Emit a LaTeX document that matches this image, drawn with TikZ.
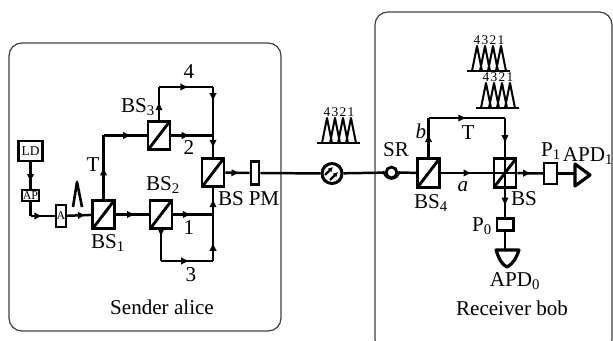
\documentclass[tikz,border=0pt]{standalone}
\usepackage{fontspec}
\setmainfont{Liberation Serif}
\usetikzlibrary{arrows.meta, decorations.markings}
\tikzset{
  fiber/.style={line width=0.062cm},
  arr/.style={postaction={decorate},decoration={markings,mark=at position #1 with {\arrow{Latex[length=2.1mm,width=1.9mm]}}}},
  part/.style={draw,line width=0.072cm,fill=white,inner sep=0pt},
  bsbox/.style={part,minimum width=0.55cm,minimum height=0.72cm,
    path picture={\draw[line width=0.072cm] (path picture bounding box.south west) -- (path picture bounding box.north east);}},
  lab/.style={font=\fontsize{15}{17}\selectfont,inner sep=0pt},
  tiny/.style={font=\fontsize{9.5}{10}\selectfont,inner sep=0pt},
  frame/.style={draw=black!75,line width=0.03cm,rounded corners=0.32cm},
  pulse/.style={line width=0.05cm,line join=round}
}
% one train of four pulses, #1 x of first peak, #2 baseline y, #3 name
\newcommand{\pulsetrain}[3]{
  \foreach \p/\d in {0/4,8/3,16/2,24/1}{
    \draw[pulse] ({#1+\p-5},#2) -- ({#1+\p},{#2-25}) -- ({#1+\p+5},#2);
    \node[tiny] (#3\d) at ({#1+\p},{#2-31}) {\d};
  }
  \draw[pulse] ({#1-10},#2) -- ({#1+33},#2);
}
\begin{document}
\begin{tikzpicture}[x=0.025cm,y=-0.025cm]
\useasboundingbox (0,0) rectangle (613,341);

\draw[frame] (9,43) rectangle (281,331);
\draw[frame] (375,12) rectangle (612,352);

% sender parts
\node[part,minimum width=0.6cm,minimum height=0.5cm] (ld) at (30.5,151) {\fontsize{9.5}{10}\selectfont LD};
\node[part,minimum width=0.43cm,minimum height=0.27cm,line width=0.05cm] (ap) at (30.5,195.5) {\fontsize{8.5}{9}\selectfont AP};
\node[part,minimum width=0.25cm,minimum height=0.55cm,line width=0.055cm] (at) at (61,216) {\fontsize{8.5}{9}\selectfont A};
\node[bsbox] (bsone) at (103.5,214.5) {};
\node[bsbox] (bstwo) at (161,214.5) {};
\node[bsbox] (bsthree) at (159,135.5) {};
\node[bsbox] (bsout) at (213,172.5) {};
\node[part,minimum width=0.2cm,minimum height=0.58cm] (pm) at (255,173) {};

\coordinate (turn) at (30.5,216);
\coordinate (tcorner) at (103.5,135.5);
\coordinate (up) at (159,87);
\coordinate (topright) at (213,87);
\coordinate (low) at (161,261);
\coordinate (lowright) at (213,261);
\coordinate (jtwo) at (213,135.5);
\coordinate (jone) at (213,214.5);
\coordinate (backtip) at (161,237);

\draw[fiber,arr=0.75] (ld) -- (ap);
\draw[fiber,line join=round] (ap) -- (turn);
\draw[fiber,arr=0.5] (turn) -- (at);
\draw[fiber,arr=0.8] (at) -- (bsone);
\draw[fiber,arr=0.6] (bsone) -- (bstwo);
\draw[fiber,arr=0.5] (bsone) -- (tcorner);
\draw[fiber,arr=0.65] (tcorner) -- (bsthree);
\draw[fiber,arr=0.45] (bsthree) -- (jtwo);
\draw[fiber,arr=0.45] (bstwo) -- (jone);
\draw[fiber,arr=0.55] (bsthree) -- (up);
\draw[fiber,arr=0.55] (up) -- (topright);
\draw[fiber,arr=0.3] (topright) -- (jtwo);
\draw[fiber,arr=0.6] (jtwo) -- (bsout);
\draw[fiber] (bstwo) -- (low);
\draw[fiber,-{Latex[length=2.1mm,width=1.9mm]}] (bstwo) -- (backtip);
\draw[fiber,arr=0.55] (low) -- (lowright);
\draw[fiber,arr=0.4] (lowright) -- (jone);
\draw[fiber,arr=0.6] (jone) -- (bsout);
\draw[fiber,arr=0.6] (bsout) -- (pm);

% single pulse
\draw[pulse,line width=0.065cm] (73,207) -- (77,182) -- (82,207);

\node[lab] (lfour) at (189,72) {4};
\node[lab] (lbsthree) at (138,107) {BS\textsubscript{3}};
\node[lab] (ltwo) at (189,148) {2};
\node[lab] (lt) at (93,165) {T};
\node[lab] (lbstwo) at (163,185) {BS\textsubscript{2}};
\node[lab] (lone) at (189,228) {1};
\node[lab] (lthree) at (191,275) {3};
\node[lab] (lbsone) at (108,243) {BS\textsubscript{1}};
\node[lab] (lbs) at (231,199) {BS};
\node[lab] (lpm) at (264,199) {PM};
\node[lab] (sender) at (162,307) {Sender alice};

% channel
\node[draw,circle,line width=0.075cm,fill=white,minimum size=0.5cm,inner sep=0pt] (iso) at (332,173.5) {};
\draw[line width=0.06cm,-{Latex[length=1.2mm,width=1.3mm]}] (325,175) -- (333,167);
\draw[line width=0.06cm,-{Latex[length=1.2mm,width=1.3mm]}] (330,180) -- (338,172);
\node[draw,circle,line width=0.07cm,fill=white,minimum size=0.27cm,inner sep=0pt] (sr) at (391.5,172.5) {};
\draw[line width=0.04cm] (383.5,171) arc[start angle=180,end angle=0,radius=8];

\pulsetrain{327}{143}{cha}
\pulsetrain{486}{108}{rxb}
\pulsetrain{477}{71}{rxa}

% receiver parts
\node[bsbox] (bsfour) at (428.5,173) {};
\node[bsbox] (bsrx) at (505,173) {};
\node[part,minimum width=0.32cm,minimum height=0.54cm,line width=0.055cm] (pone) at (550.5,173.5) {};
\node[part,minimum width=0.42cm,minimum height=0.3cm,line width=0.055cm] (pzero) at (505,224.5) {};
\coordinate (bup) at (428.5,118);
\coordinate (bright) at (505,118);
\coordinate (apdone) at (575,173.5);
\coordinate (apdzero) at (505,250);

\draw[fiber] (pm) -- (iso);
\draw[fiber] (iso) -- (sr);
\draw[fiber] (sr) -- (bsfour);
\draw[fiber,arr=0.6] (bsfour) -- (bsrx);
\draw[fiber,arr=0.6] (bsfour) -- (bup);
\draw[fiber,arr=0.5] (bup) -- (bright);
\draw[fiber,arr=0.65] (bright) -- (bsrx);
\draw[fiber,arr=0.55] (bsrx) -- (pone);
\draw[fiber,arr=0.6] (bsrx) -- (pzero);
\draw[fiber] (pone) -- (apdone);
\draw[fiber] (pzero) -- (apdzero);
\draw[line width=0.05cm] (bsrx.north) -- (bsrx.south) (bsrx.west) -- (bsrx.east);

\draw[line width=0.08cm,line join=round] (575,164) -- (590,175) -- (575,186) -- cycle;
\draw[line width=0.08cm,line join=round] (496,250) -- (519,250) to[out=-110,in=30] (507,267) to[out=150,in=-70] (496,250) -- cycle;

\node[lab] (lsr) at (396,150) {SR};
\node[lab] (lbsfour) at (431,203) {BS\textsubscript{4}};
\node[lab] (lb) at (421,131) {\textit{b}};
\node[lab] (ltr) at (468,133) {T};
\node[lab] (la) at (463,187) {\textit{a}};
\node[lab] (lbsrx) at (524,199) {BS};
\node[lab] (lpone) at (551,151) {P\textsubscript{1}};
\node[lab] (lapdone) at (588,156) {APD\textsubscript{1}};
\node[lab] (lpzero) at (482,226) {P\textsubscript{0}};
\node[lab] (lapdzero) at (515,281) {APD\textsubscript{0}};
\node[lab] (receiver) at (512,308) {Receiver bob};
\end{tikzpicture}
\end{document}
